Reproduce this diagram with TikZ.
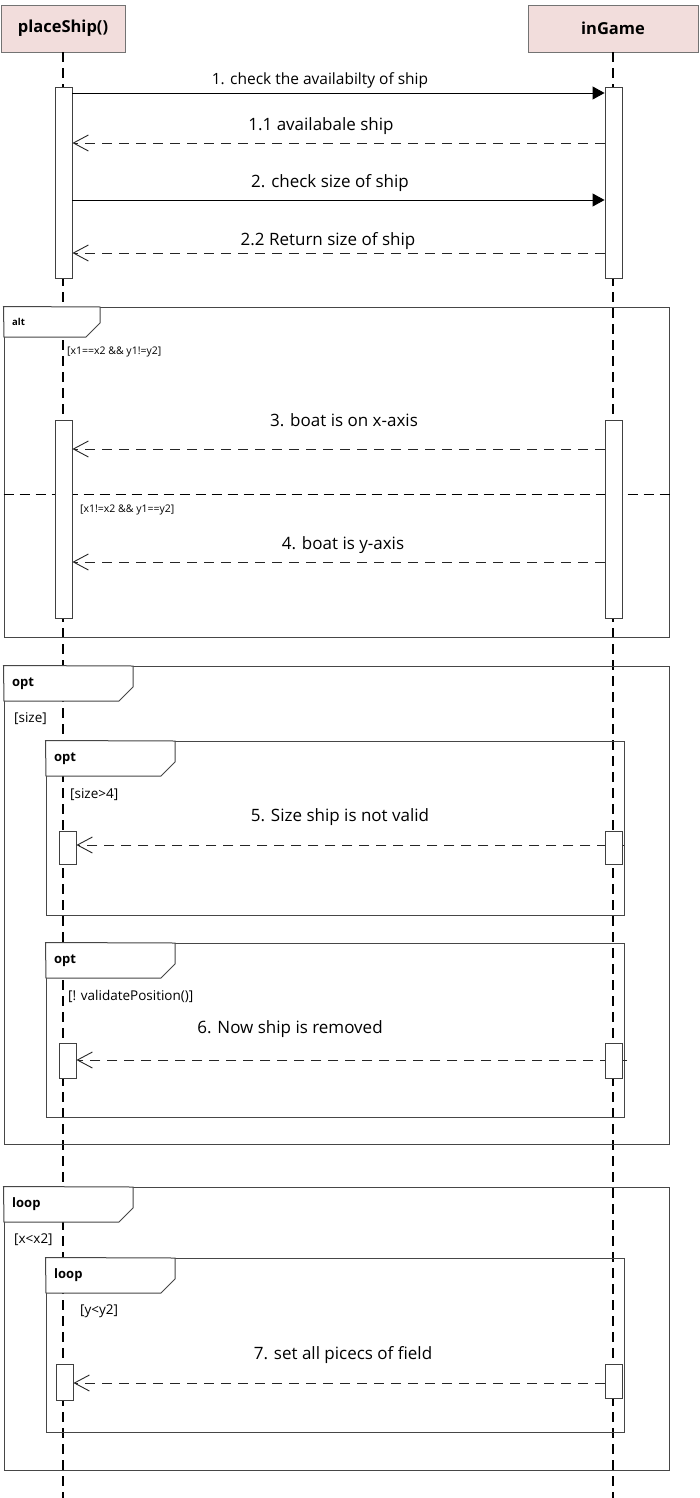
\documentclass[tikz,border=0pt]{standalone}
\usepackage{fontspec}
\setmainfont{Open Sans}
\usetikzlibrary{arrows.meta,positioning,fit}
\definecolor{headfill}{RGB}{242,221,220}
\definecolor{frameline}{RGB}{70,70,70}
\newcommand{\fsz}[1]{\fontsize{#1}{#1}\selectfont}
\newcommand{\fragment}[8]{%
  \node[frame, fit={(#2,#3) (#4,#5)}] (#1) {};
  \filldraw[tabbox] (#1.north west) -- ({#6},{#3}) -- ({#6},{#7-14}) -- ({#6-14},{#7}) -- ({#2},{#7}) -- cycle;
  \node[tabtext] (#1-op) at ({#2+8},{(#3+#7)/2}) {#8};
}

\begin{document}
\begin{tikzpicture}[
  x=1pt, y=-1pt,
  head/.style={draw=black!55, fill=headfill, minimum height=47, inner sep=0, font=\fsz{16.5}\bfseries},
  lifeline/.style={line width=1.2pt, dash pattern=on 10pt off 6pt},
  act/.style={draw=black!75, fill=white, line width=0.9pt, minimum width=17, minimum height=#1, inner sep=0, anchor=north},
  frame/.style={draw=frameline, line width=1pt, inner sep=0},
  tabbox/.style={draw=frameline, fill=white, line width=1pt},
  tabtext/.style={anchor=west, inner sep=0, font=\fsz{13}\bfseries},
  guard/.style={anchor=west, inner sep=0, font=\fsz{13.5}},
  msg/.style={inner sep=0, font=\fsz{17}},
  call/.style={-{Triangle[length=12pt, width=13pt]}, line width=0.9pt},
  reply/.style={-{Straight Barb[length=15pt, width=16pt]}, line width=0.9pt, draw=black!85, dash pattern=on 10pt off 7pt},
  sep/.style={line width=1pt, dash pattern=on 10pt off 6pt}
]
  \useasboundingbox (0,0) rectangle (699,1498);

  \node[head, minimum width=124] (ps) at (63,28.5) {placeShip()};
  \node[head, minimum width=170] (ig) at (613,28.5) {inGame};
  \coordinate (psEnd) at (63,1498);
  \coordinate (igEnd) at (613,1498);
  \draw[lifeline] (ps.south) -- (psEnd);
  \draw[lifeline] (ig.south) -- (igEnd);

  \fragment{alt}{4}{307}{669}{637}{100}{337}{\fsz{9.5}alt}
  \draw[sep] ([yshift=-188]alt.north west) -- ([yshift=-188]alt.north east);
  \node[guard, font=\fsz{10.5}] (g1) at (67,352) {[x1==x2 \&\& y1!=y2]};
  \node[guard, font=\fsz{10.5}] (g2) at (80,510) {[x1!=x2 \&\& y1==y2]};

  \fragment{opt}{4}{666}{669}{1144}{133}{701}{opt}
  \fragment{optSize}{46}{741}{624}{915}{175}{776}{opt}
  \fragment{optPos}{46}{943}{624}{1117}{175}{978}{opt}
  \node[guard] (g3) at (14,719) {[size]};
  \node[guard] (g4) at (70,795) {[size>4]};
  \node[guard] (g5) at (68,996) {[! validatePosition()]};

  \fragment{loopX}{4}{1187}{669}{1470}{133}{1222}{loop}
  \fragment{loopY}{46}{1258}{624}{1432}{175}{1293}{loop}
  \node[guard] (g6) at (14,1240) {[x<x2]};
  \node[guard] (g7) at (80,1311) {[y<y2]};

  \node[act=191] (a1) at (63.5,87) {};
  \node[act=191] (b1) at (613.5,87) {};
  \node[act=198] (a2) at (63.5,420) {};
  \node[act=198] (b2) at (613.5,420) {};
  \node[act=33] (a3) at (67.5,831) {};
  \node[act=33] (b3) at (613.5,831) {};
  \node[act=35] (a4) at (67.5,1043) {};
  \node[act=35] (b4) at (613.5,1043) {};
  \node[act=36] (a5) at (64.5,1364) {};
  \node[act=34] (b5) at (613.5,1364) {};

  \draw[call] ([yshift=-6]a1.north east) -- ([yshift=-6]b1.north west);
  \draw[reply] ([yshift=-56]b1.north west) -- ([yshift=-56]a1.north east);
  \draw[call] ([yshift=-113]a1.north east) -- ([yshift=-113]b1.north west);
  \draw[reply] ([yshift=-166]b1.north west) -- ([yshift=-166]a1.north east);
  \draw[reply] ([yshift=-29]b2.north west) -- ([yshift=-29]a2.north east);
  \draw[reply] ([yshift=-142]b2.north west) -- ([yshift=-142]a2.north east);
  \draw[reply] ([xshift=2, yshift=-14]b3.north east) -- ([yshift=-14]a3.north east);
  \draw[reply] ([xshift=5, yshift=-17]b4.north east) -- ([yshift=-17]a4.north east);
  \draw[reply] ([yshift=-19]b5.north west) -- ([yshift=-19]a5.north east);
  \node[act=33] at (b3.north) {};
  \node[act=35] at (b4.north) {};

  \node[msg, font=\fsz{15.5}] (l1) at (320,80) {1. check the availabilty of ship};
  \node[msg] (l11) at (321,126) {1.1 availabale ship};
  \node[msg] (l2) at (330,183) {2. check size of ship};
  \node[msg] (l22) at (328,241) {2.2 Return size of ship};
  \node[msg] (l3) at (344,420) {3. boat is on x-axis};
  \node[msg] (l4) at (343,545) {4. boat is y-axis};
  \node[msg] (l5) at (340,817) {5. Size ship is not valid};
  \node[msg] (l6) at (290,1029) {6. Now ship is removed};
  \node[msg] (l7) at (343,1355) {7. set all picecs of field};
\end{tikzpicture}
\end{document}
